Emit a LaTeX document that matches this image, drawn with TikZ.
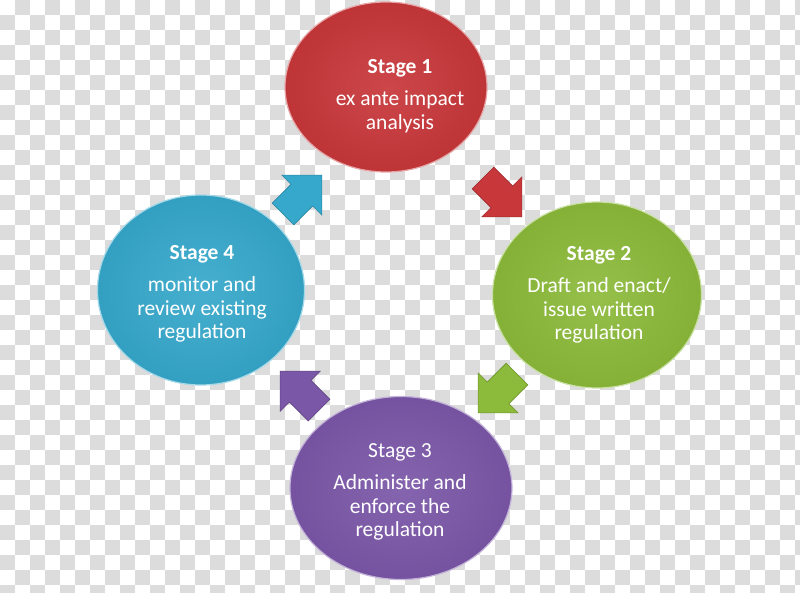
\documentclass[tikz,border=0pt]{standalone}
\usepackage{fontspec}
\setmainfont{Carlito}
\usetikzlibrary{shapes.geometric,shapes.arrows}
\definecolor{redfill}{HTML}{C8373A}
\definecolor{greenfill}{HTML}{8CBA3A}
\definecolor{purplefill}{HTML}{7B57A8}
\definecolor{bluefill}{HTML}{36A8CB}
\definecolor{chk}{HTML}{DCDCDC}
\begin{document}
\begin{tikzpicture}
[x=1pt,y=-1pt]
\tikzset{stage/.style={ellipse,inner sep=0pt,line width=1.2pt,draw=#1!45!white,inner color=#1!92!white,outer color=#1!95!black}}
\tikzset{stagetxt/.style={align=center,text=white,font=\fontsize{21.5}{23.5}\selectfont}}
\tikzset{blockarrow/.style={single arrow,inner xsep=0pt,inner ysep=15pt,minimum height=55pt,single arrow head extend=13pt,fill=#1,draw=#1!80!black,line width=.6pt}}
\useasboundingbox (0,0) rectangle (800,592);
\fill[white] (0,0) rectangle (800,592);
\foreach \j in {0,...,39}
  \foreach \i in {0,...,53}
    {\pgfmathtruncatemacro\odd{mod(\i+\j,2)}
     \ifnum\odd=1 \fill[chk] (\i*15,\j*15) rectangle +(15,15); \fi}
\node [stage=redfill,minimum width=202pt,minimum height=170pt] (s1) at (386,87) {};
\node [stage=greenfill,minimum width=209pt,minimum height=186pt] (s2) at (597,295) {};
\node [stage=purplefill,minimum width=222pt,minimum height=183pt] (s3) at (401,488) {};
\node [stage=bluefill,minimum width=207pt,minimum height=190pt] (s4) at (201,290) {};
\node [stagetxt] (t1) at (400,96) {\textbf{Stage 1}\\[9pt]ex ante impact\\analysis};
\node [stagetxt] (t2) at (599,295) {\textbf{Stage 2}\\[9pt]Draft and enact/\\issue written\\regulation};
\node [stagetxt] (t3) at (400,492) {Stage 3\\[9pt]Administer and\\enforce the\\regulation};
\node [stagetxt] (t4) at (202,294) {\textbf{Stage 4}\\[9pt]monitor and\\review existing\\regulation};
\node [blockarrow=bluefill,rotate=45] (a41) at (297,200) {};
\node [blockarrow=redfill,rotate=-45] (a12) at (497,192) {};
\node [blockarrow=greenfill,rotate=-135] (a23) at (503,388) {};
\node [blockarrow=purplefill,rotate=135] (a34) at (305,396) {};
\end{tikzpicture}
\end{document}
